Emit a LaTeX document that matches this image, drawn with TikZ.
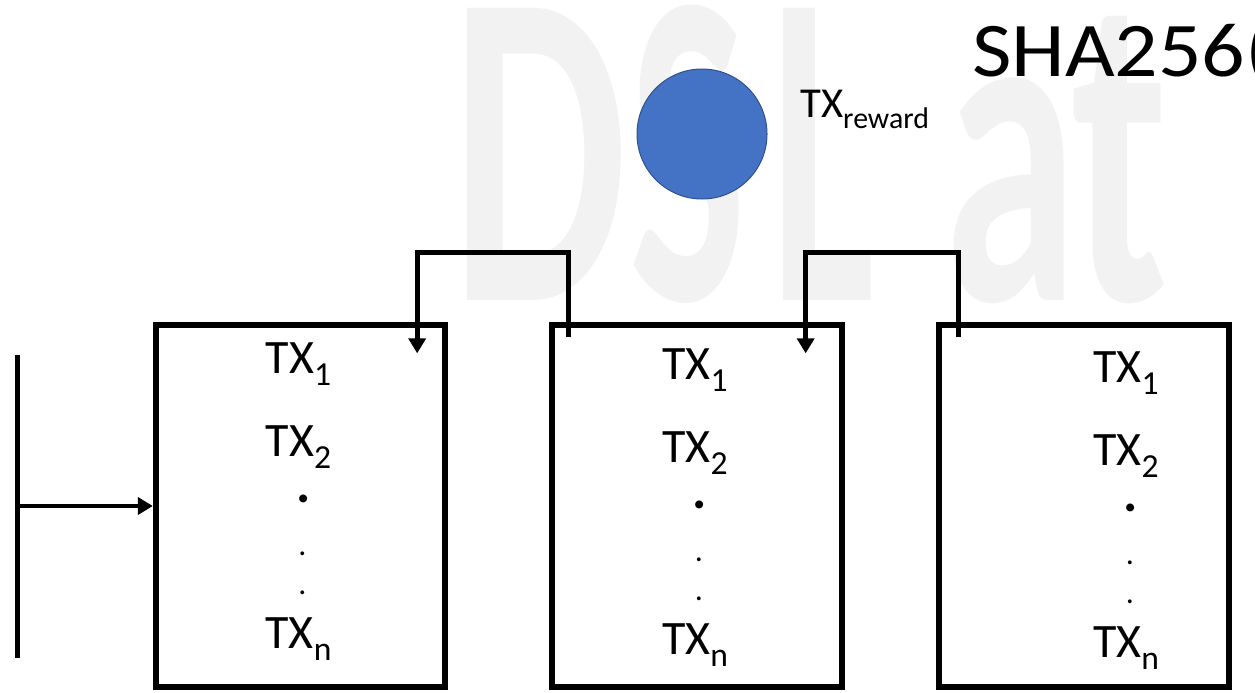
\documentclass[tikz,border=0pt]{standalone}
\usepackage{fontspec}
\usepackage{graphicx}
\setmainfont{Carlito}
\usetikzlibrary{arrows.meta,calc}

\definecolor{rewardBlue}{HTML}{4472C4}
\definecolor{rewardEdge}{HTML}{2F528F}
\definecolor{markGray}{HTML}{F2F2F2}

% lowered, smaller index as in the slide
\newcommand{\lowsub}[1]{\raisebox{-0.27em}{\scalebox{0.7}{#1}}}

\tikzset{
  block/.style={draw, line width=4.5pt, minimum width=217pt, minimum height=271pt, inner sep=0pt},
  link/.style={line width=3.6pt, -{Triangle[width=12.75pt,length=11.25pt]}},
  txt/.style={font=\fontsize{36}{40}\selectfont, inner sep=0pt, anchor=base},
  bigdot/.style={font=\bfseries\fontsize{40}{44}\selectfont, inner sep=0pt, anchor=base},
  smalldot/.style={font=\fontsize{24}{28}\selectfont, inner sep=0pt, anchor=base},
  wmark/.style={text=markGray, font=\bfseries\fontsize{338}{340}\selectfont, inner sep=0pt, anchor=base}
}

\begin{document}
\begin{tikzpicture}[x=0.75pt, y=-0.75pt]
    \useasboundingbox (0,0) rectangle (1255,692);

    % Background lettering
    \foreach \l/\x/\s in {D/540/0.62, S/688/0.55, L/823/0.55, a/1011/0.6, t/1120/0.62}
        \node[wmark, xscale=\s] (wm\l) at (\x,300) {\l};

    % Blocks
    \node[block] (blk1) at (300.5,506) {};
    \node[block] (blk2) at (697,506) {};
    \node[block] (blk3) at (1084,506) {};

    % Transactions in each block
    \foreach \b/\dx/\dy in {1/-2/0, 2/-2/6, 3/42/9} {
        \node[txt] (txA\b) at ($(blk\b.center)+(\dx,-133+\dy)$) {TX\lowsub{1}};
        \node[txt] (txB\b) at ($(blk\b.center)+(\dx,-50+\dy)$) {TX\lowsub{2}};
        \node[bigdot] (dotA\b) at ($(blk\b.center)+(\dx+5,-4+\dy)$) {.};
        \node[smalldot] (dotB\b) at ($(blk\b.center)+(\dx+4,49+\dy)$) {.};
        \node[smalldot] (dotC\b) at ($(blk\b.center)+(\dx+4,88+\dy)$) {.};
        \node[txt] (txN\b) at ($(blk\b.center)+(\dx,142+\dy)$) {TX\lowsub{n}};
    }

    % Chain links between blocks
    \draw[link] ($(blk2.north west)+(19,15)$) -- ++(0,-85) -| ($(blk1.north east)+(-31,31)$);
    \draw[link] ($(blk3.north west)+(22,15)$) -- ++(0,-85) -| ($(blk2.north east)+(-39,31)$);

    % Genesis side
    \coordinate (barTop) at (17,355);
    \coordinate (barBot) at (17,658);
    \coordinate (feed) at (17,506);
    \draw[line width=3.75pt] (barTop) -- (barBot);
    \draw[link] (feed) -- (blk1.west);

    % Reward transaction
    \node[circle, fill=rewardBlue, draw=rewardEdge, line width=0.75pt, minimum size=97.5pt, inner sep=0pt] (reward) at (702,134) {};
    \node[font=\fontsize{32}{36}\selectfont, inner sep=0pt, anchor=base west] (rewardLbl) at (800,117) {TX\lowsub{reward}};

    % Hash label
    \node[font=\fontsize{58}{64}\selectfont, inner sep=0pt, anchor=base west, xscale=1.11] (hash) at (972,77) {SHA256(};
\end{tikzpicture}
\end{document}
